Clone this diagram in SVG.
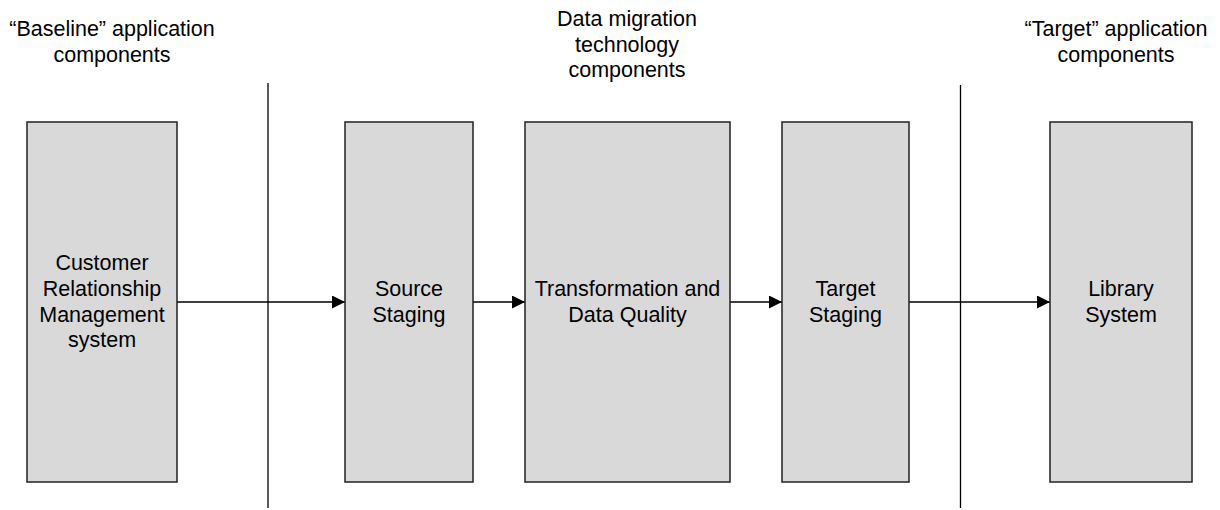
<svg xmlns="http://www.w3.org/2000/svg" width="1220" height="510" viewBox="0 0 1220 510">
<style>
.box{fill:#d9d9d9;stroke:#222;stroke-width:1.5}
.t{font-family:"Liberation Sans",Arial,sans-serif;font-size:21.5px;fill:#000;text-anchor:middle}
.ln{stroke:#000;stroke-width:1.3;fill:none}
</style>
<defs>
<marker id="ah" markerWidth="13" markerHeight="13" refX="13" refY="6.5" orient="auto" markerUnits="userSpaceOnUse">
<path d="M0,0 L13,6.5 L0,13 Z" fill="#000"/>
</marker>
</defs>
<g id="headers">
<text class="t" x="112" y="36">“Baseline” application</text>
<text class="t" x="112" y="62">components</text>
<text class="t" x="627" y="26">Data migration</text>
<text class="t" x="627" y="52">technology</text>
<text class="t" x="627" y="77">components</text>
<text class="t" x="1116" y="36">“Target” application</text>
<text class="t" x="1116" y="62">components</text>
</g>
<g id="dividers">
<line class="ln" x1="268" y1="83" x2="268" y2="508"/>
<line class="ln" x1="960.5" y1="85" x2="960.5" y2="508"/>
</g>
<g id="connectors">
<line class="ln" x1="177" y1="302" x2="345" y2="302" marker-end="url(#ah)"/>
<line class="ln" x1="473" y1="302" x2="525" y2="302" marker-end="url(#ah)"/>
<line class="ln" x1="730" y1="302" x2="782" y2="302" marker-end="url(#ah)"/>
<line class="ln" x1="909" y1="302" x2="1050" y2="302" marker-end="url(#ah)"/>
</g>
<g id="crm">
<rect class="box" x="27" y="122" width="150" height="360"/>
<text class="t" x="102" y="270">Customer</text>
<text class="t" x="102" y="296">Relationship</text>
<text class="t" x="102" y="322">Management</text>
<text class="t" x="102" y="347">system</text>
</g>
<g id="source-staging">
<rect class="box" x="345" y="122" width="128" height="360"/>
<text class="t" x="409" y="296">Source</text>
<text class="t" x="409" y="322">Staging</text>
</g>
<g id="transformation">
<rect class="box" x="525" y="122" width="205" height="360"/>
<text class="t" x="627.5" y="296">Transformation and</text>
<text class="t" x="627.5" y="322">Data Quality</text>
</g>
<g id="target-staging">
<rect class="box" x="782" y="122" width="127" height="360"/>
<text class="t" x="845.5" y="296">Target</text>
<text class="t" x="845.5" y="322">Staging</text>
</g>
<g id="library">
<rect class="box" x="1050" y="122" width="142" height="360"/>
<text class="t" x="1121" y="296">Library</text>
<text class="t" x="1121" y="322">System</text>
</g>
</svg>
